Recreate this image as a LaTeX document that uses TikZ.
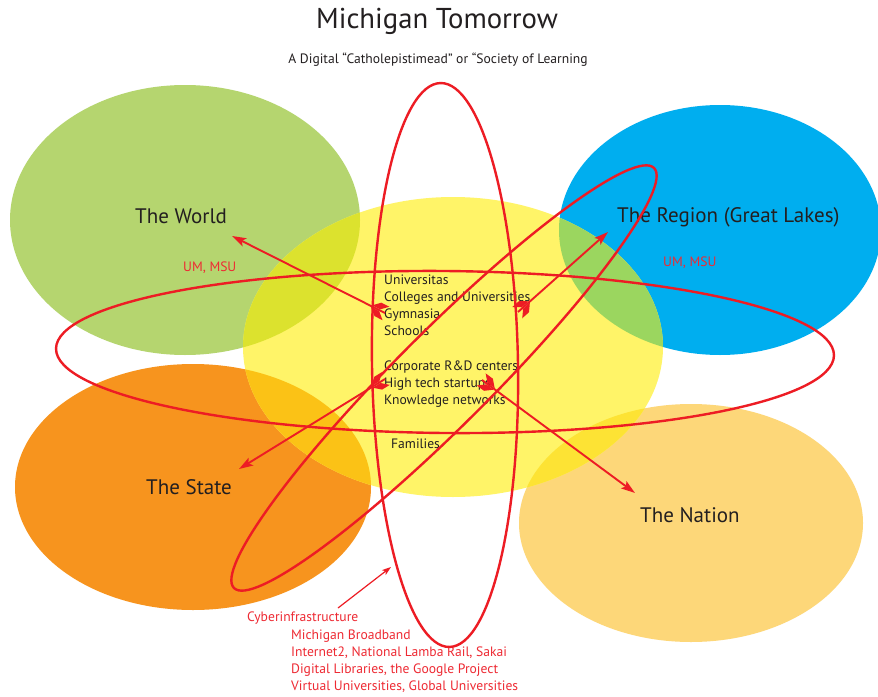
\documentclass[tikz,border=0pt]{standalone}
\usepackage{fontspec}
\setmainfont{PT Sans}
\usetikzlibrary{arrows.meta,decorations.markings}
\definecolor{redl}{HTML}{ED1C24}
\definecolor{redt}{HTML}{EE2A33}
\definecolor{darkt}{HTML}{231F20}
\definecolor{worldc}{HTML}{B5D56F}
\definecolor{regionc}{HTML}{00AEEF}
\definecolor{yellowc}{HTML}{FFF468}
\definecolor{statec}{HTML}{F7941E}
\definecolor{nationc}{HTML}{FDD779}
\definecolor{ovworld}{HTML}{DCE22E}
\definecolor{ovregion}{HTML}{9BD65F}
\definecolor{ovstate}{HTML}{FBC216}
\definecolor{ovnation}{HTML}{FDE334}
\begin{document}
\begin{tikzpicture}[x=1pt,y=-1pt,
  ring/.style={draw=redl, line width=2.4pt},
  feather/.style={postaction={decorate}, decoration={markings, mark=at position 0pt with {
      \fill[redl] (6,1) -- (15,1) -- (8,7.5) -- (-1,7.5) -- cycle;
      \fill[redl] (6,-1) -- (15,-1) -- (8,-7.5) -- (-1,-7.5) -- cycle;}}},
  arr/.style={draw=redl, line width=1.9pt, -{Stealth[length=14pt,width=9pt,inset=3pt]}, feather},
  thinarr/.style={draw=redl, line width=1.2pt, -{Stealth[length=9pt,width=6pt,inset=2pt]}},
  small/.style={font=\fontsize{13.6}{15}\selectfont, inner sep=0pt, anchor=base west},
  body/.style={small, text=darkt},
  redtxt/.style={small, text=redt},
  label/.style={font=\fontsize{21}{24}\selectfont, inner sep=0pt, anchor=base west, text=darkt}
]
\useasboundingbox[fill=white] (0,0) rectangle (878,696);
% big circles
\fill[worldc] (185,220) ellipse [x radius=175, y radius=135];
\fill[regionc] (720,230) ellipse [x radius=161, y radius=125];
\fill[statec] (193,487) ellipse [x radius=178, y radius=123];
\fill[nationc] (691,523) ellipse [x radius=172, y radius=119];
\fill[yellowc] (453,347) ellipse [x radius=210, y radius=150];
% overlaps
\begin{scope}
  \clip (185,220) ellipse [x radius=175, y radius=135];
  \fill[ovworld] (453,347) ellipse [x radius=210, y radius=150];
\end{scope}
\begin{scope}
  \clip (720,230) ellipse [x radius=161, y radius=125];
  \fill[ovregion] (453,347) ellipse [x radius=210, y radius=150];
\end{scope}
\begin{scope}
  \clip (193,487) ellipse [x radius=178, y radius=123];
  \fill[ovstate] (453,347) ellipse [x radius=210, y radius=150];
\end{scope}
\begin{scope}
  \clip (691,523) ellipse [x radius=172, y radius=119];
  \fill[ovnation] (453,347) ellipse [x radius=210, y radius=150];
\end{scope}
% titles
\node[font=\fontsize{28.7}{32}\selectfont, inner sep=0pt, anchor=base, text=darkt] (title) at (437,28) {Michigan Tomorrow};
\node[font=\fontsize{13.6}{15}\selectfont, inner sep=0pt, anchor=base, text=darkt] (subtitle) at (438,63) {A Digital “Catholepistimead” or “Society of Learning};
% labels
\node[label] (world) at (135,223) {The World};
\node[label] (region) at (617,222) {The Region (Great Lakes)};
\node[label] (state) at (146,494) {The State};
\node[label] (nation) at (640,522) {The Nation};
\node[redtxt] (umw) at (183,271) {UM, MSU};
\node[redtxt] (umr) at (663,266) {UM, MSU};
% center text
\node[body] (t1) at (384,284) {Universitas};
\node[body] (t2) at (384,301.5) {Colleges and Universities};
\node[body] (t3) at (384,318.5) {Gymnasia};
\node[body] (t4) at (384,335.5) {Schools};
\node[body] (t5) at (384,370.5) {Corporate R\&D centers};
\node[body] (t6) at (384,387.5) {High tech startups};
\node[body] (t7) at (384,404.5) {Knowledge networks};
\node[body] (t8) at (391,448) {Families};
% bottom text
\node[redtxt] (c0) at (247,621.5) {Cyberinfrastructure};
\node[redtxt] (c1) at (291,639) {Michigan Broadband};
\node[redtxt] (c2) at (291,656) {Internet2, National Lamba Rail, Sakai};
\node[redtxt] (c3) at (291,673) {Digital Libraries, the Google Project};
\node[redtxt] (c4) at (291,690) {Virtual Universities, Global Universities};
% red rings
\draw[ring, rotate around={-0.5:(445,352)}] (445,352) ellipse [x radius=389, y radius=81];
\draw[ring, rotate around={0.9:(445,365)}] (445,365) ellipse [x radius=73, y radius=282];
\draw[ring, rotate around={45:(444,378)}] (444,378) ellipse [x radius=297, y radius=47];
% arrows
\coordinate (wT) at (385,313);
\coordinate (wH) at (232,236);
\coordinate (rT) at (518,312);
\coordinate (rH) at (608,232);
\coordinate (sT) at (385,379);
\coordinate (sH) at (239,469);
\coordinate (nT) at (482,380);
\coordinate (nH) at (635,493);
\coordinate (cT) at (338,608);
\coordinate (cH) at (391,567);
\draw[arr] (wT) -- (wH);
\draw[arr] (rT) -- (rH);
\draw[arr] (sT) -- (sH);
\draw[arr] (nT) -- (nH);
\draw[thinarr] (cT) -- (cH);
\end{tikzpicture}
\end{document}
